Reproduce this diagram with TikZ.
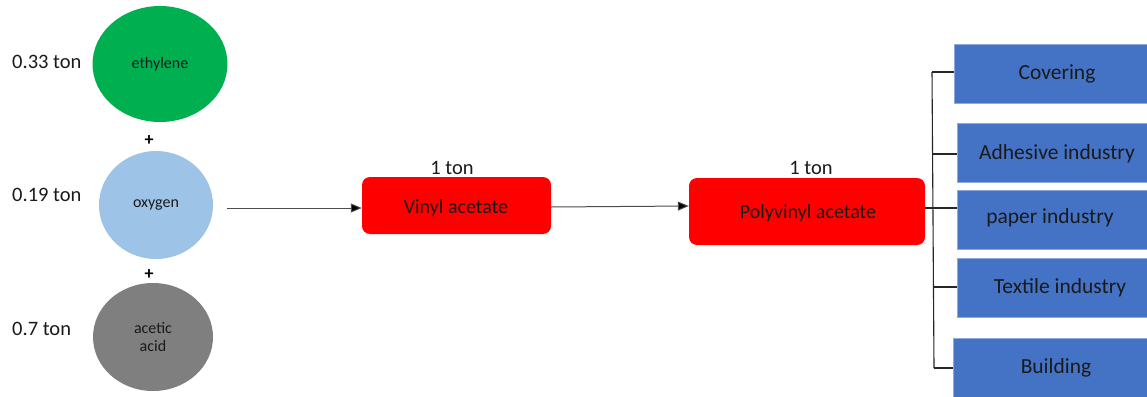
\documentclass[tikz,border=0pt]{standalone}
\usepackage{fontspec}
\setmainfont{Carlito}
\usetikzlibrary{arrows.meta,shapes.geometric}

\definecolor{ethgreen}{HTML}{00B050}
\definecolor{oxyblue}{HTML}{9DC3E6}
\definecolor{acidgray}{HTML}{7F7F7F}
\definecolor{prodred}{HTML}{FF0000}
\definecolor{usesblue}{HTML}{4472C4}
\definecolor{usesedge}{HTML}{8FA9DC}
\definecolor{inktext}{HTML}{1A1A1A}

\tikzset{
  feed/.style={ellipse, inner sep=0pt, text=inktext,
    font=\fontsize{16}{19}\selectfont, align=center},
  amount/.style={anchor=west, inner sep=0pt, text=inktext,
    font=\fontsize{20.5}{24}\selectfont},
  plus/.style={inner sep=0pt, font=\fontsize{18}{21}\selectfont\bfseries},
  product/.style={rectangle, rounded corners=8pt, fill=prodred,
    inner sep=0pt, text=inktext, font=\fontsize{20}{24}\selectfont,
    text height=14pt, text depth=0pt},
  use/.style={rectangle, fill=usesblue, draw=usesedge, line width=0.8pt,
    minimum width=206pt, minimum height=59pt, inner sep=0pt,
    text=inktext, font=\fontsize{21.5}{25}\selectfont},
  flow/.style={draw=black!70, line width=1pt,
    -{Triangle[length=11pt,width=9pt,fill=black]}},
  bracket/.style={draw=black!85, line width=1.1pt},
}

\begin{document}
\begin{tikzpicture}[x=1pt,y=-1pt]
\clip (0,0) rectangle (1147,396);
\fill[white] (0,0) rectangle (1147,396);

% raw materials
\node[feed, fill=ethgreen, minimum width=135pt, minimum height=116pt] (eth) at (160,64) {ethylene};
\node[feed, fill=oxyblue, minimum width=114pt, minimum height=108pt] (oxy) at (156,205) {oxygen};
\node[feed, fill=acidgray, minimum width=120pt, minimum height=108pt] (acid) at (153,337) {acetic\\[-1pt]acid};

\node[plus] (p1) at (149,141) {+};
\node[plus] (p2) at (149,275) {+};

\node[amount] (m1) at (12,62) {0.33 ton};
\node[amount] (m2) at (12,195) {0.19 ton};
\node[amount] (m3) at (12,329) {0.7 ton};

% products
\node[product, minimum width=189pt, minimum height=57pt] (vac) at (456.5,205.5) {};
\node[text=inktext, font=\fontsize{20}{24}\selectfont, inner sep=0pt] (vact) at (456,208) {Vinyl acetate};
\node[product, minimum width=236pt, minimum height=67pt] (pva) at (807,211.5) {};
\node[text=inktext, font=\fontsize{20}{24}\selectfont, inner sep=0pt] (pvat) at (808,213) {Polyvinyl acetate};

\node[amount, anchor=center] (t1) at (452,168) {1 ton};
\node[amount, anchor=center] (t2) at (811,168) {1 ton};

\coordinate (s1) at (227,208);
\draw[flow] (s1) -- (vac.west |- s1);
\draw[flow] (vac.east |- 0,207) -- (pva.west |- 0,206);

% applications
\node[use] (cov) at (1057,74) {Covering};
\node[use] (adh) at (1060,153) {};
\node[text=inktext, font=\fontsize{21.5}{25}\selectfont, inner sep=0pt] (adht) at (1057,154) {Adhesive industry};
\node[use] (pap) at (1060,219.5) {};
\node[text=inktext, font=\fontsize{21.5}{25}\selectfont, inner sep=0pt] (papt) at (1050,218) {paper industry};
\node[use] (tex) at (1060,287.5) {Textile industry};
\node[use] (bld) at (1056,368) {Building};

\coordinate (b1) at (932,72);
\coordinate (b2) at (933,154);
\coordinate (b3) at (933,208);
\coordinate (b4) at (934,287);
\coordinate (b5) at (934,368);

\draw[bracket] (b1) -- (b5);
\draw[bracket] (b1) -- (cov.west |- b1);
\draw[bracket] (b2) -- (adh.west |- b2);
\draw[bracket] (pva.east |- b3) -- (pap.west |- b3);
\draw[bracket] (b4) -- (tex.west |- b4);
\draw[bracket] (b5) -- (bld.west |- b5);
\end{tikzpicture}
\end{document}
